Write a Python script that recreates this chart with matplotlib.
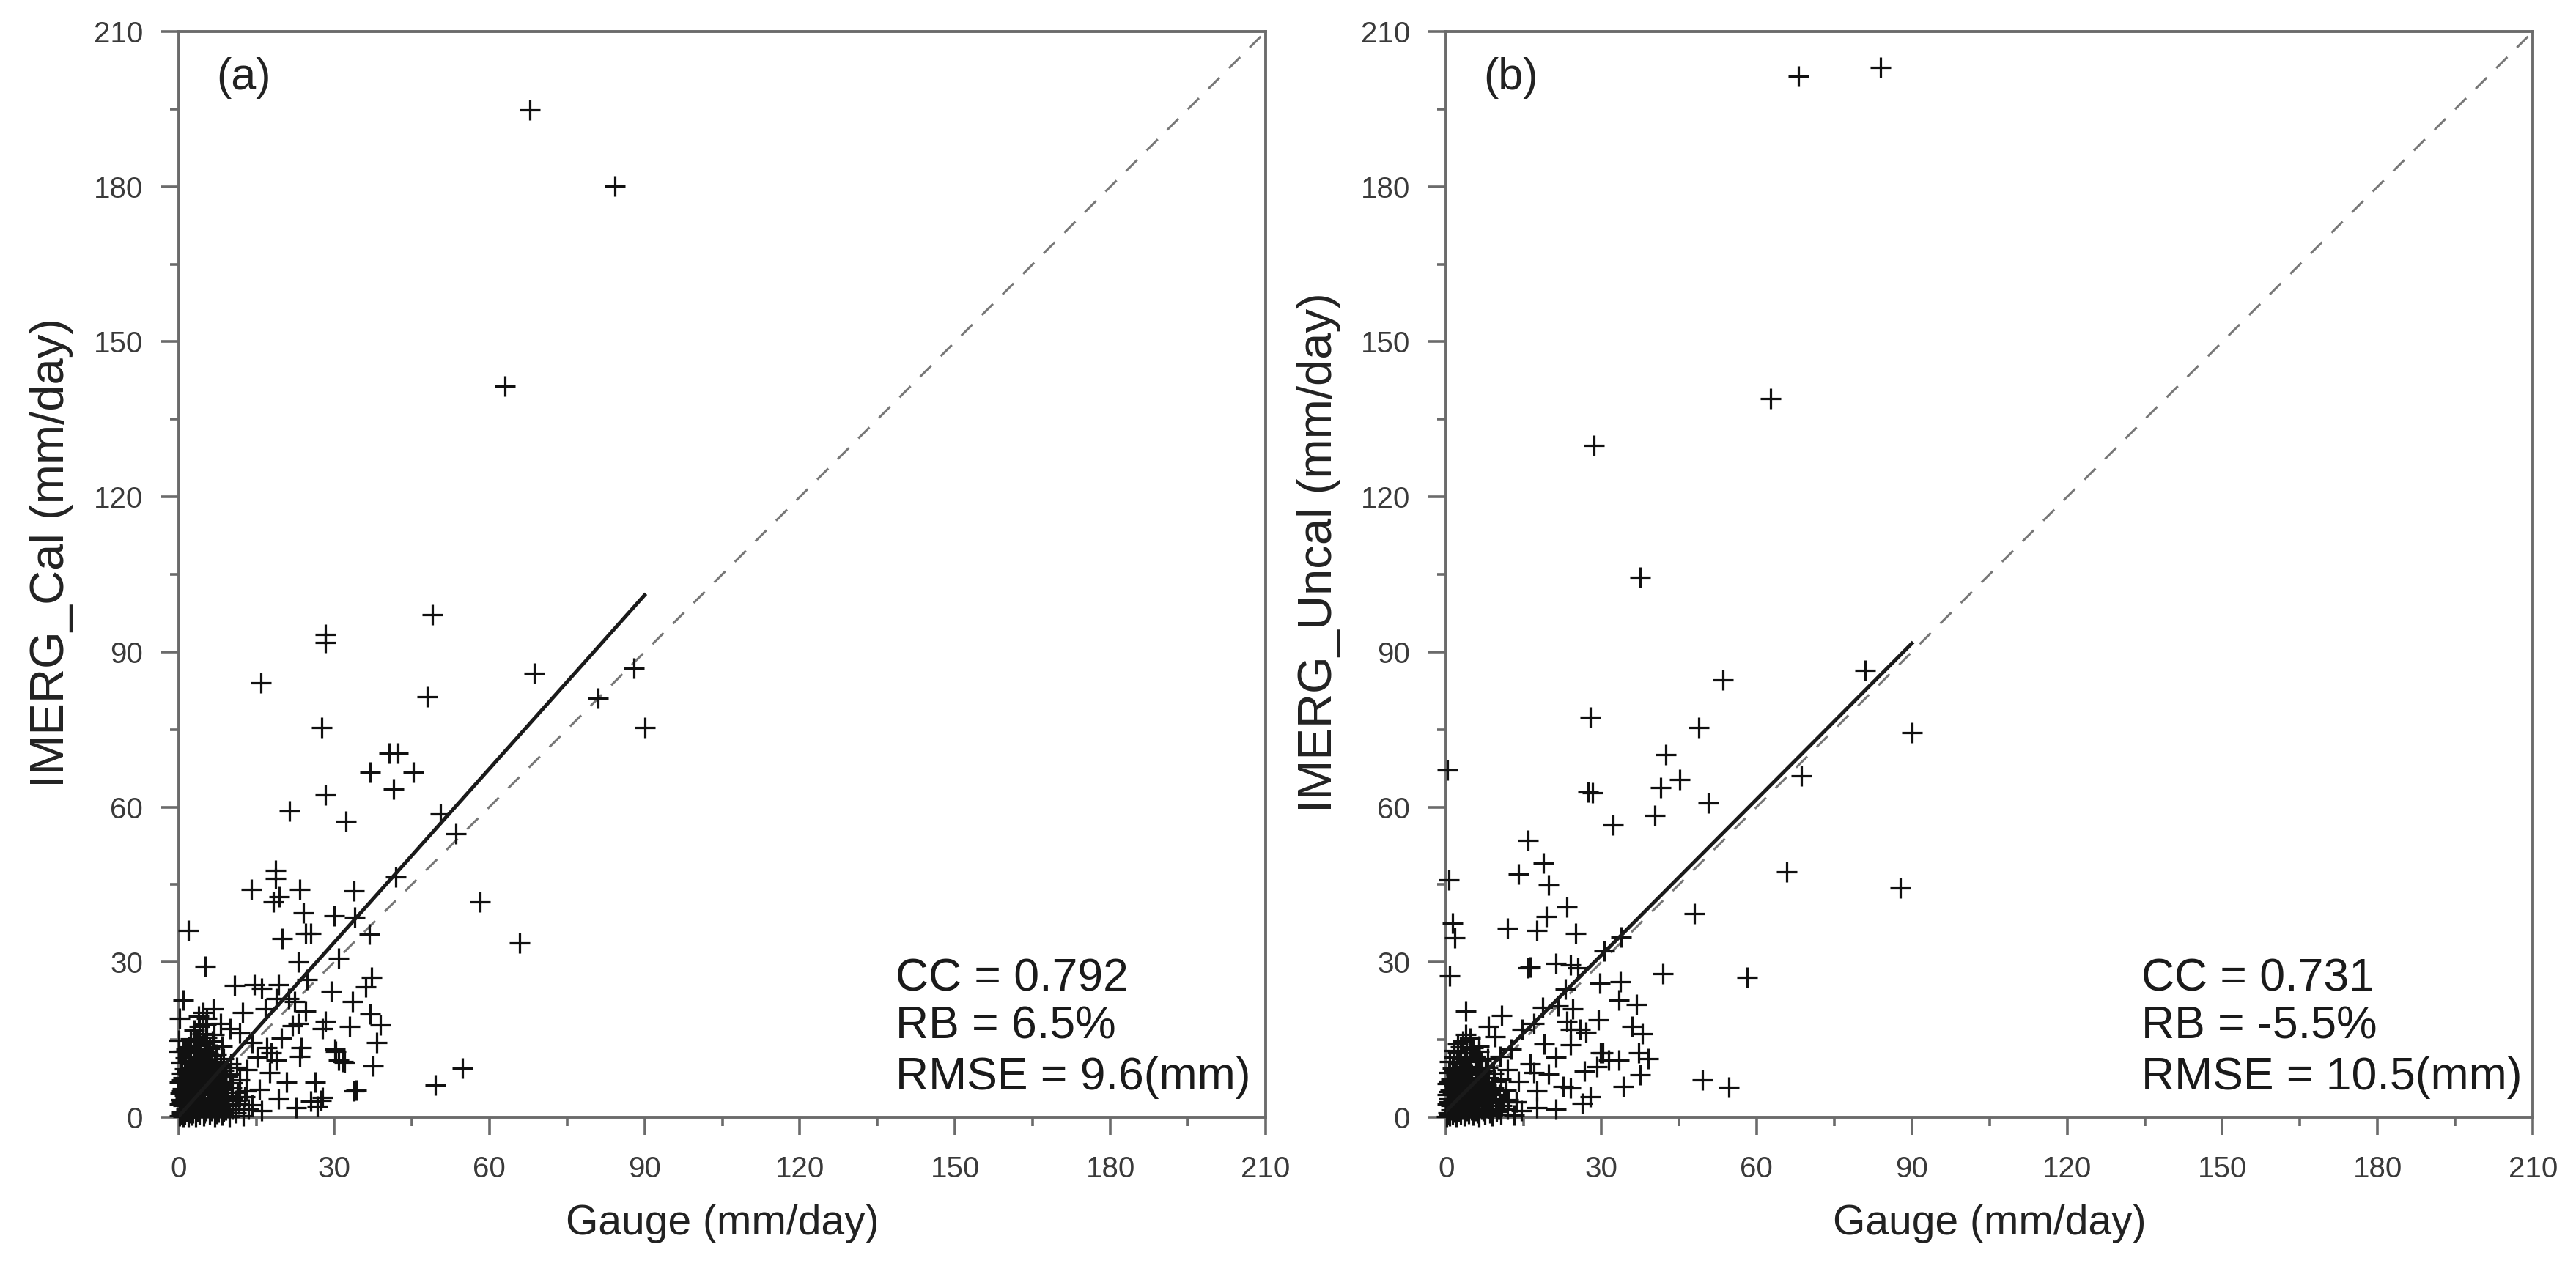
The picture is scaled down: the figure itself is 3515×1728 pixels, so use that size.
import numpy as np
import matplotlib
matplotlib.use("Agg")
import matplotlib.pyplot as plt

plt.rcParams['font.family'] = ['Liberation Sans', 'DejaVu Sans']

# ---- data (gauge mm/day, satellite mm/day) ----
# (a) IMERG_Cal vs gauge
pts_a_outliers = [
    (67.8, 194.8), (84.3, 180.1), (63.0, 141.4), (28.3, 93.4), (28.3, 91.8),
    (49.0, 97.2), (15.9, 84.0), (68.7, 85.9), (48.0, 81.4), (27.6, 75.4),
    (87.9, 86.8), (81.0, 81.1), (90.0, 75.4), (40.6, 70.4), (42.4, 70.4),
    (37.0, 66.8), (45.3, 66.8), (41.5, 63.5), (28.3, 62.3), (21.4, 59.2),
    (32.3, 57.3), (50.6, 58.7), (53.5, 54.9), (41.9, 46.5), (58.2, 41.7),
    (65.9, 33.7), (49.5, 6.3), (54.8, 9.5), (1.9, 36.1),
]
pts_a_mid = [
    (18.7, 47.7), (18.7, 46.2), (14.0, 44.1), (23.3, 44.0), (33.8, 43.8),
    (19.4, 42.6), (18.3, 41.7), (24.1, 39.6), (30.0, 38.9), (34.0, 38.7),
    (20.0, 34.6), (24.5, 35.6), (25.5, 35.6), (36.8, 35.4), (5.1, 29.2),
    (23.1, 30.0), (30.9, 30.7), (24.8, 26.7), (37.3, 27.1), (36.1, 25.2),
    (10.8, 25.5), (14.6, 25.7), (16.0, 25.0), (19.3, 25.7), (29.5, 24.3),
    (33.5, 22.4), (0.9, 22.6), (0.2, 19.1), (4.7, 20.3), (5.4, 19.1),
    (12.3, 20.3), (16.7, 21.0), (18.9, 22.9), (21.2, 22.9), (22.4, 22.4),
    (24.5, 20.5), (28.3, 18.6), (33.0, 17.5), (27.8, 17.2), (37.0, 20.0),
    (38.9, 17.9), (21.9, 17.7), (23.1, 18.2), (38.2, 14.4), (30.2, 13.2),
    (30.9, 11.1), (32.0, 10.6), (23.6, 13.4), (23.3, 11.8), (37.5, 9.9),
    (34.2, 5.2), (26.4, 6.8), (27.8, 3.8), (25.5, 3.1), (19.3, 3.5),
    (22.6, 1.9), (16.0, 1.2), (13.2, 9.2), (15.1, 11.6), (17.0, 13.4),
    (18.9, 11.1), (17.5, 8.7), (20.8, 6.8), (15.6, 5.4), (11.8, 4.0),
    (9.9, 17.2), (11.8, 16.3), (8.0, 18.2), (3.8, 19.6), (6.6, 21.0),
    (0.0, 14.9), (0.0, 12.7), (14.2, 14.4), (19.8, 15.3), (17.9, 12.5),
    (27.4, 3.3), (26.7, 2.1), (30.3, 12.8), (31.7, 10.7), (33.9, 5.1),
]
pts_a_cluster = [
    (0.2, 0.3), (0.5, 1.0), (0.8, 0.1), (1.1, 0.6), (1.4, 1.5), (1.8, 0.2),
    (2.1, 0.9), (2.5, 0.4), (2.9, 1.7), (3.3, 0.2), (3.6, 1.1), (4.0, 0.5),
    (4.4, 1.9), (4.8, 0.3), (5.3, 1.2), (5.9, 0.6), (6.4, 1.6), (7.0, 0.2),
    (7.6, 1.0), (8.3, 0.4), (9.0, 1.4), (9.8, 0.1), (11.0, 0.8), (12.4, 0.3),
    (13.5, 1.5), (0.1, 2.5), (0.4, 3.4), (0.9, 2.2), (1.3, 3.8), (1.7, 2.8),
    (2.2, 3.3), (2.6, 2.1), (3.1, 3.9), (3.5, 2.6), (3.9, 3.2), (4.5, 2.4),
    (5.0, 3.7), (5.6, 2.9), (6.1, 3.5), (6.8, 2.3), (7.4, 3.8), (8.1, 2.7),
    (8.8, 3.3), (9.5, 2.2), (10.4, 3.6), (11.6, 2.6), (12.8, 3.9), (14.2, 2.4),
    (0.3, 4.6), (0.7, 5.5), (1.2, 4.3), (1.6, 5.9), (2.0, 4.8), (2.4, 5.6),
    (2.9, 4.2), (3.4, 5.3), (3.8, 4.7), (4.3, 5.9), (4.9, 4.4), (5.5, 5.2),
    (6.2, 4.9), (6.9, 5.8), (7.7, 4.5), (8.5, 5.4), (9.3, 4.1), (10.2, 5.7),
    (11.3, 4.8), (13.0, 5.1), (0.2, 6.8), (0.8, 7.6), (1.5, 6.4), (2.1, 7.3),
    (2.7, 6.6), (3.2, 7.9), (3.8, 6.2), (4.4, 7.1), (5.1, 6.5), (5.7, 7.7),
    (6.5, 6.9), (7.3, 7.4), (8.2, 6.3), (9.1, 7.8), (10.3, 6.6), (11.8, 7.2),
    (0.5, 8.5), (1.1, 9.4), (1.8, 8.2), (2.5, 9.7), (3.0, 8.8), (3.7, 9.2),
    (4.3, 8.4), (5.0, 9.9), (5.8, 8.6), (6.6, 9.5), (7.5, 8.9), (8.6, 9.1),
    (9.8, 8.3), (11.2, 9.6), (0.4, 10.6), (1.3, 11.5), (2.2, 10.3), (3.0, 11.8),
    (3.8, 10.9), (4.6, 11.4), (5.5, 10.5), (6.4, 11.9), (7.4, 10.8), (8.6, 11.3),
    (10.0, 10.4), (0.9, 12.8), (2.0, 13.6), (3.1, 12.4), (4.1, 13.9), (5.0, 12.7),
    (6.0, 13.3), (7.2, 12.2), (8.4, 13.7), (2.3, 15.1), (3.6, 14.6), (4.5, 16.2),
    (5.4, 15.4), (6.5, 14.8), (4.0, 17.5), (5.2, 18.0),
    (0.6, 0.6), (1.6, 1.1), (2.7, 0.8), (3.8, 1.6), (5.0, 0.9), (6.2, 1.3),
    (7.3, 0.7), (8.7, 1.1), (10.3, 1.6), (0.6, 2.9), (1.9, 3.6), (3.3, 2.9),
    (4.7, 3.2), (6.4, 2.8), (7.8, 3.1), (9.2, 3.8), (11.0, 3.2), (0.5, 5.1),
    (1.8, 4.5), (3.1, 5.8), (4.6, 5.0), (6.0, 5.5), (7.3, 5.1), (8.9, 4.8),
    (0.5, 7.2), (1.8, 6.9), (3.5, 6.8), (4.8, 7.4), (6.1, 6.3), (7.8, 7.0),
    (1.5, 8.9), (3.3, 9.6), (4.6, 9.0), (6.2, 8.8), (8.0, 9.9), (1.8, 10.9),
    (3.4, 10.2), (5.1, 11.1), (6.9, 10.3), (1.4, 13.2), (3.6, 13.1), (5.6, 12.3),
    (2.8, 14.9), (4.9, 14.3), (6.8, 16.0), (3.0, 16.8),
]

# (b) IMERG_Uncal vs gauge
pts_b_outliers = [
    (84.0, 203.0), (68.1, 201.4), (62.7, 139.0), (28.6, 130.0), (37.5, 104.5),
    (81.0, 86.5), (53.5, 84.6), (27.8, 77.4), (48.8, 75.4), (90.1, 74.4),
    (42.4, 70.1), (45.1, 65.3), (41.4, 63.8), (0.3, 67.1), (27.4, 62.9),
    (28.3, 62.8), (68.7, 66.0), (50.6, 60.8), (40.4, 58.4), (32.3, 56.5),
    (65.8, 47.4), (87.8, 44.4), (48.0, 39.4), (58.2, 27.0), (41.9, 27.7),
    (49.5, 7.2), (54.6, 5.8),
]
pts_b_mid = [
    (15.8, 53.5), (18.8, 49.2), (14.0, 47.1), (19.8, 44.9), (0.6, 45.9),
    (23.4, 40.6), (19.4, 38.8), (11.8, 36.5), (17.6, 36.2), (25.0, 35.5),
    (1.2, 37.6), (1.7, 34.7), (33.8, 34.9), (30.6, 32.2), (16.2, 29.1),
    (21.2, 29.8), (24.1, 29.5), (25.4, 28.9), (15.9, 28.9), (0.7, 27.4),
    (29.7, 25.9), (33.7, 26.2), (23.0, 24.8), (33.4, 22.7), (36.8, 21.8),
    (29.4, 18.8), (35.9, 17.6), (37.9, 16.1), (3.8, 20.6), (10.7, 19.7),
    (23.4, 18.5), (25.9, 17.0), (30.3, 12.5), (33.4, 11.0), (37.2, 12.5),
    (39.0, 11.3), (37.5, 8.2), (34.3, 6.0), (27.8, 3.9), (26.3, 2.7),
    (21.2, 11.6), (16.9, 8.6), (22.7, 6.0), (8.2, 17.6), (6.4, 13.7),
    (14.7, 17.0), (16.9, 18.2), (18.7, 21.2), (21.6, 21.5), (24.5, 20.9),
    (24.1, 17.0), (27.0, 16.4), (26.7, 8.9), (29.2, 9.8), (29.9, 12.5),
    (31.4, 11.0), (24.1, 5.7), (21.2, 1.5), (17.6, 1.8), (14.0, 6.9),
    (11.8, 9.2), (16.2, 10.4), (19.8, 8.3), (17.6, 5.1), (24.1, 14.0),
    (12.6, 13.2), (9.4, 15.6), (13.5, 2.9), (19.0, 14.1), (10.5, 11.8),
]
pts_b_cluster = [
    (0.1, 0.2), (0.4, 0.9), (0.7, 0.3), (1.0, 1.4), (1.3, 0.5), (1.7, 1.8),
    (2.0, 0.1), (2.4, 1.1), (2.8, 0.6), (3.2, 1.6), (3.5, 0.3), (3.9, 1.2),
    (4.3, 0.7), (4.7, 1.9), (5.2, 0.4), (5.7, 1.3), (6.3, 0.2), (6.9, 1.5),
    (7.5, 0.6), (8.2, 1.7), (8.9, 0.3), (9.7, 1.1), (10.6, 0.5), (11.8, 1.6),
    (13.1, 0.4), (14.6, 1.2), (0.2, 2.6), (0.6, 3.5), (1.0, 2.3), (1.4, 3.1),
    (1.9, 2.7), (2.3, 3.8), (2.7, 2.2), (3.2, 3.4), (3.7, 2.5), (4.2, 3.7),
    (4.7, 2.1), (5.3, 3.2), (5.9, 2.6), (6.5, 3.9), (7.2, 2.4), (7.9, 3.3),
    (8.7, 2.8), (9.6, 3.6), (10.7, 2.3), (12.0, 3.4), (13.6, 2.9), (0.3, 4.4),
    (0.8, 5.3), (1.2, 4.8), (1.7, 5.8), (2.2, 4.2), (2.6, 5.1), (3.1, 4.6),
    (3.6, 5.7), (4.1, 4.3), (4.7, 5.4), (5.3, 4.9), (6.0, 5.9), (6.7, 4.5),
    (7.5, 5.2), (8.3, 4.7), (9.2, 5.6), (10.3, 4.4), (11.6, 5.3), (0.2, 6.5),
    (0.9, 7.4), (1.6, 6.2), (2.3, 7.8), (2.9, 6.8), (3.5, 7.2), (4.2, 6.4),
    (4.9, 7.6), (5.6, 6.7), (6.4, 7.3), (7.3, 6.5), (8.2, 7.7), (9.3, 6.9),
    (10.6, 7.4), (0.5, 8.6), (1.2, 9.5), (1.9, 8.3), (2.7, 9.1), (3.4, 8.7),
    (4.2, 9.8), (5.0, 8.4), (5.9, 9.3), (6.9, 8.8), (8.0, 9.6), (9.2, 8.5),
    (0.7, 10.8), (1.6, 11.6), (2.6, 10.4), (3.5, 11.3), (4.5, 10.7), (5.6, 11.8),
    (6.8, 10.9), (8.0, 11.4), (1.5, 12.9), (2.8, 13.6), (4.0, 12.5), (5.2, 13.4),
    (6.4, 12.8), (3.2, 14.8), (4.6, 15.3),
    (0.5, 0.5), (1.5, 1.0), (2.6, 1.5), (3.7, 0.8), (4.9, 1.4), (6.0, 0.8),
    (7.2, 1.2), (8.5, 0.9), (10.1, 1.5), (0.5, 3.0), (1.7, 3.3), (3.0, 2.8),
    (4.4, 3.1), (5.8, 3.5), (7.4, 2.9), (9.0, 3.1), (11.2, 2.9), (0.6, 4.9),
    (1.9, 5.2), (3.3, 5.0), (4.5, 4.7), (5.8, 4.5), (7.1, 5.7), (8.8, 5.2),
    (0.5, 7.0), (1.9, 7.1), (3.2, 6.3), (4.6, 7.0), (6.0, 7.0), (7.7, 6.2),
    (1.6, 8.9), (3.1, 9.5), (4.6, 9.2), (6.3, 8.5), (7.6, 9.0), (2.1, 10.7),
    (4.0, 11.4), (6.2, 11.2), (2.2, 12.5), (4.6, 13.0), (2.3, 14.2), (3.8, 16.0),
]

# least-squares lines as drawn: slope, intercept, x range
fit_a = (1.12, 0.2)
fit_b = (1.005, 1.2)
fit_x = [0, 90]

stats_a = ["CC = 0.792", "RB = 6.5%", "RMSE = 9.6(mm)"]
stats_b = ["CC = 0.731", "RB = -5.5%", "RMSE = 10.5(mm)"]

axis_grey = "#6b6b6b"
label_grey = "#3a3a3a"


def draw_panel(ax, points, fit, stats, tag, ylab, stats_x):
    pts = np.array(points)
    ax.plot(pts[:, 0], pts[:, 1], linestyle="none", marker="+", ms=10.3,
            mew=1.15, color="#111111", clip_on=False, zorder=3)
    ax.plot([0, 210], [0, 210], linestyle=(0, (7, 6)), color="#777777",
            lw=1.1, zorder=2)
    fx = np.array(fit_x, dtype=float)
    ax.plot(fx, fit[0] * fx + fit[1], color="#1a1a1a", lw=1.8, zorder=4)

    ax.set_xlim(0, 210)
    ax.set_ylim(0, 210)
    ax.set_xticks(np.arange(0, 211, 30))
    ax.set_yticks(np.arange(0, 211, 30))
    ax.set_xticks(np.arange(15, 211, 30), minor=True)
    ax.set_yticks(np.arange(15, 211, 30), minor=True)
    ax.tick_params(which="major", direction="out", length=8.6, width=1.3,
                   color=axis_grey, labelsize=14.5, labelcolor=label_grey)
    ax.tick_params(axis="x", which="major", pad=10)
    ax.tick_params(axis="y", which="major", pad=9)
    ax.tick_params(which="minor", direction="out", length=4.3, width=1.3,
                   color=axis_grey)
    for sp in ax.spines.values():
        sp.set_color(axis_grey)
        sp.set_linewidth(1.4)

    ax.set_xlabel("Gauge (mm/day)", fontsize=20.5, color="#222222")
    ax.set_ylabel(ylab, fontsize=23.5, color="#222222")
    ax.xaxis.set_label_coords(0.5, -0.098)
    ax.xaxis.label.set_va("center")
    ax.yaxis.set_label_coords(-0.117, 0.52)
    ax.yaxis.label.set_va("center")

    ax.text(7.2, 201, tag, fontsize=22, va="center", ha="left", color="#222222")
    for s, yb in zip(stats, [24.5, 15.2, 5.4]):
        ax.text(stats_x, yb, s, fontsize=22.5, va="baseline", ha="left",
                color="#1a1a1a")


fig = plt.figure(figsize=(17.58, 8.64), dpi=200)
ax1 = fig.add_axes([0.0694, 0.1175, 0.4218, 0.8576])
ax2 = fig.add_axes([0.5612, 0.1175, 0.4218, 0.8576])

draw_panel(ax1, pts_a_outliers + pts_a_mid + pts_a_cluster, fit_a, stats_a,
           "(a)", "IMERG_Cal (mm/day)", 138.5)
draw_panel(ax2, pts_b_outliers + pts_b_mid + pts_b_cluster, fit_b, stats_b,
           "(b)", "IMERG_Uncal (mm/day)", 134.4)

fig.savefig("out.png", dpi=200)
